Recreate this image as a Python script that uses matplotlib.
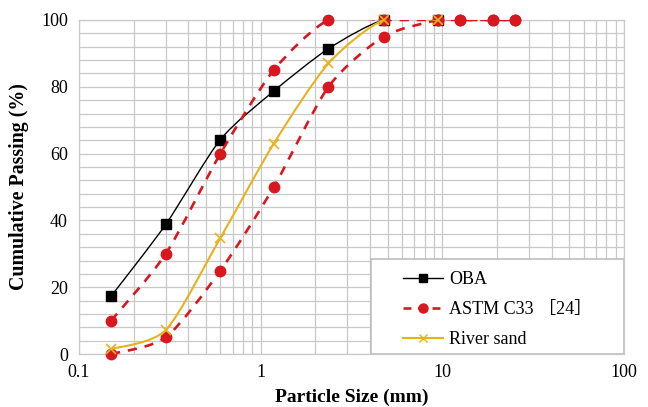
import numpy as np
import matplotlib
matplotlib.use("Agg")
import matplotlib.pyplot as plt
from matplotlib.path import Path
from matplotlib.patches import PathPatch, Rectangle
from matplotlib.ticker import FixedLocator, MultipleLocator, NullFormatter, FixedFormatter

plt.rcParams['font.family'] = ['Liberation Serif', 'Noto Sans CJK SC', 'DejaVu Sans']

# sieve sizes (mm) and cumulative passing (%)
oba_size = [0.15, 0.3, 0.6, 1.18, 2.36, 4.75, 9.5]
oba_pass = [17.3, 38.8, 64.2, 78.7, 91.4, 100, 100]

astm_size = [0.15, 0.3, 0.6, 1.18, 2.36, 4.75, 9.5, 12.5, 19, 25]
astm_upper = [10, 30, 60, 85, 100, 100, 100, 100, 100, 100]
astm_lower = [0, 5, 25, 50, 80, 95, 100, 100, 100, 100]

sand_size = [0.15, 0.3, 0.6, 1.18, 2.36, 4.75, 9.5]
sand_pass = [1.5, 7.2, 34.8, 63.0, 87.0, 100, 100]

x_ticks = [0.1, 1, 10, 100]
x_ticklabels = ['0.1', '1', '10', '100']

BLACK = '#000000'
RED = '#d7191f'
GOLD = '#e8b21e'
GRID = '#c9c9c9'


def smooth_path(xs, ys, k=1 / 8):
    # smoothed line like the spreadsheet one: cubic bezier segments in log-x / y space
    u = np.log10(xs) * 182.0
    v = np.asarray(ys, dtype=float) * 3.34
    n = len(u)
    verts = [(xs[0], ys[0])]
    codes = [Path.MOVETO]
    for i in range(n - 1):
        i0 = max(i - 1, 0)
        i3 = min(i + 2, n - 1)
        c1u = u[i] + (u[i + 1] - u[i0]) * k
        c1v = v[i] + (v[i + 1] - v[i0]) * k
        c2u = u[i + 1] - (u[i3] - u[i]) * k
        c2v = v[i + 1] - (v[i3] - v[i]) * k
        verts += [(10 ** (c1u / 182.0), c1v / 3.34),
                  (10 ** (c2u / 182.0), c2v / 3.34),
                  (xs[i + 1], ys[i + 1])]
        codes += [Path.CURVE4] * 3
    return Path(verts, codes)


fig = plt.figure(figsize=(6.48, 4.07), dpi=100)
ax = fig.add_axes([0.122, 0.130, 0.841, 0.821])
ax.set_xscale('log')
ax.set_xlim(0.1, 100)
ax.set_ylim(0, 100)

ax.xaxis.set_major_locator(FixedLocator(x_ticks))
ax.xaxis.set_major_formatter(FixedFormatter(x_ticklabels))
ax.xaxis.set_minor_locator(FixedLocator([m * 10.0 ** d for d in (-1, 0, 1) for m in range(2, 10)]))
ax.xaxis.set_minor_formatter(NullFormatter())
ax.yaxis.set_major_locator(MultipleLocator(20))
ax.yaxis.set_minor_locator(MultipleLocator(4))

ax.grid(True, which='both', color=GRID, lw=0.9)
ax.set_axisbelow(True)
for s in ax.spines.values():
    s.set_color(GRID)
    s.set_linewidth(0.9)
ax.tick_params(which='both', length=0, labelsize=13)
ax.tick_params(axis='y', pad=8)
ax.tick_params(axis='x', pad=7)

series = [
    (oba_size, oba_pass, dict(color=BLACK, lw=1.0, ls='-'), dict(marker='s', ms=7, mfc=BLACK, mec=BLACK)),
    (astm_size, astm_upper, dict(color=RED, lw=1.9, ls=(0, (3.5, 3))), dict(marker='o', ms=7.5, mfc=RED, mec=RED)),
    (astm_size, astm_lower, dict(color=RED, lw=1.9, ls=(0, (3.5, 3))), dict(marker='o', ms=7.5, mfc=RED, mec=RED)),
    (sand_size, sand_pass, dict(color=GOLD, lw=1.5, ls='-'), dict(marker='x', ms=7, mew=1.2, mfc=GOLD, mec=GOLD)),
]
for i, (xs, ys, lstyle, mstyle) in enumerate(series):
    ax.add_patch(PathPatch(smooth_path(xs, ys), fill=False, edgecolor=lstyle['color'],
                           lw=lstyle['lw'], ls=lstyle['ls'], zorder=2 + i))
    ax.plot(xs, ys, ls='none', zorder=2.5 + i, clip_on=False, **mstyle)

ax.set_xlabel('Particle Size (mm)', fontsize=14, fontweight='bold', labelpad=6)
ax.set_ylabel('Cumulative Passing (%)', fontsize=14.3, fontweight='bold', labelpad=9)

# legend
h1, = ax.plot([], [], color=BLACK, lw=1.0, marker='s', ms=6, label='OBA')
h2, = ax.plot([], [], color=RED, lw=1.9, ls=(0, (3, 2.5)), marker='o', ms=6.5, label='ASTM C33 ［24］')
h3, = ax.plot([], [], color=GOLD, lw=1.5, marker='x', ms=6, label='River sand')
ax.add_patch(Rectangle((0.536, 0.0), 0.464, 0.284, transform=ax.transAxes,
                       facecolor='white', edgecolor='#bdbdbd', lw=1.2, zorder=10))
leg = ax.legend(handles=[h1, h2, h3], loc='upper left', bbox_to_anchor=(0.582, 0.270),
                frameon=False, fontsize=13, handlelength=2.2, handletextpad=0.33,
                labelspacing=0.72, borderaxespad=0, borderpad=0.4)
leg.set_zorder(11)

fig.savefig('out.png', dpi=100)
